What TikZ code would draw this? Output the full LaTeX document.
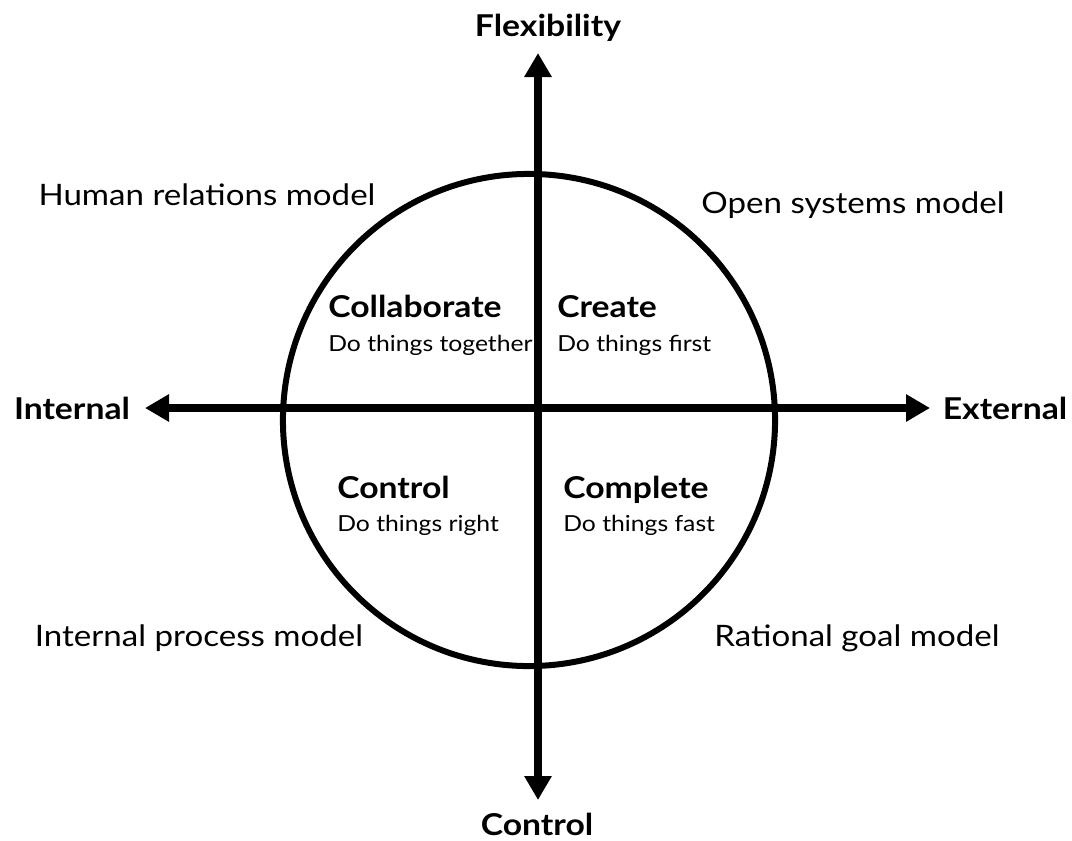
\documentclass[tikz,border=0pt]{standalone}
\usepackage{fontspec}
\setmainfont{Lato}[FakeStretch=1.12]
\usetikzlibrary{arrows.meta}

\tikzset{
  axis/.style={line width=0.2cm, {Triangle[length=0.6cm,width=0.65cm]}-{Triangle[length=0.6cm,width=0.65cm]}},
  ring/.style={circle, draw, line width=0.15cm, minimum size=12.3cm, inner sep=0},
  axislabel/.style={font=\fontsize{21.4}{25}\selectfont\bfseries, inner sep=0},
  model/.style={font=\fontsize{21}{25}\selectfont, inner sep=0},
  quad/.style={font=\fontsize{21.4}{25}\selectfont\bfseries, inner sep=0, anchor=base west},
  motto/.style={font=\fontsize{15.7}{19}\selectfont, inner sep=0, anchor=base west}
}

\begin{document}
\begin{tikzpicture}[x=0.025cm, y=-0.025cm]
\useasboundingbox (0,0) rectangle (1072,841);

% circle and the two axes
\node[ring] (ring) at (529,420) {};
\coordinate (west) at (145,408);
\coordinate (east) at (930,408);
\coordinate (north) at (538,53);
\coordinate (south) at (538,800);
\draw[axis] (west) -- (east);
\draw[axis] (north) -- (south);

% axis labels
\node[axislabel] (flex) at (548,28) {Flexibility};
\node[axislabel] (ctrl) at (537,824) {Control};
\node[axislabel] (int) at (72,408) {Internal};
\node[axislabel] (ext) at (1005,408) {External};

% models in the corners
\node[model] (hr) at (207,195) {Human relations model};
\node[model] (os) at (853,205) {Open systems model};
\node[model] (ip) at (199,638) {Internal process model};
\node[model] (rg) at (857,638) {Rational goal model};

% quadrants, title and motto on shared baselines
\node[quad] (collab) at (328,317) {Collaborate};
\node[motto] (together) at (328,351) {Do things together};
\node[quad] (create) at (557,317) {Create};
\node[motto] (first) at (557,351) {Do things first};
\node[quad] (control) at (337,498) {Control};
\node[motto] (right) at (337,531) {Do things right};
\node[quad] (complete) at (563,498) {Complete};
\node[motto] (fast) at (563,531) {Do things fast};
\end{tikzpicture}
\end{document}
